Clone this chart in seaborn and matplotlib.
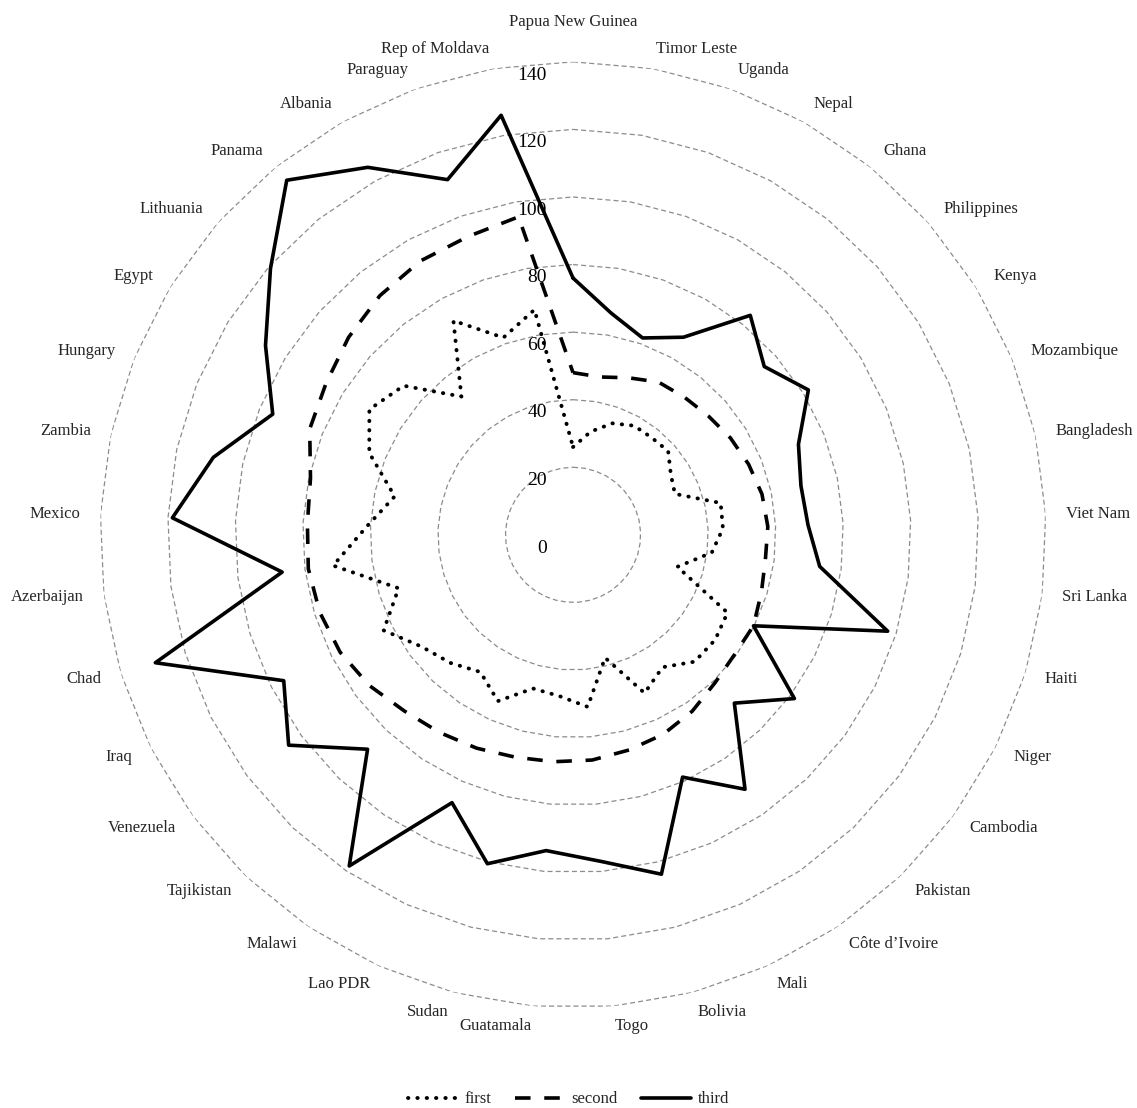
import numpy as np
import pandas as pd
import matplotlib
matplotlib.use("Agg")
import matplotlib.pyplot as plt
import seaborn as sns

# categories, clockwise from the top
countries = [
    "Papua New Guinea", "Timor Leste", "Uganda", "Nepal", "Ghana", "Philippines",
    "Kenya", "Mozambique", "Bangladesh", "Viet Nam", "Sri Lanka", "Haiti", "Niger",
    "Cambodia", "Pakistan", "Côte d\u2019Ivoire", "Mali", "Bolivia", "Togo",
    "Guatamala", "Sudan", "Lao PDR", "Malawi", "Tajikistan", "Venezuela", "Iraq",
    "Chad", "Azerbaijan", "Mexico", "Zambia", "Hungary", "Egypt", "Lithuania",
    "Panama", "Albania", "Paraguay", "Rep of Moldava",
]

first = [26, 31, 35, 37, 37, 37.5, 34, 32.5, 44.7, 44.4, 41.4, 32.3, 51.2,
         52.3, 52, 47.3, 51.4, 37.6, 51.1, 47.9, 47, 54, 49, 52.5, 55.7, 62.8,
         54, 71.6, 61, 54, 65, 70.8, 66.8, 52.6, 72.6, 61.9, 67.6]

second = [48, 47.4, 49.3, 51.8, 52.4, 53.3, 54.7, 56, 57.2, 57.7, 57.4, 58.3,
          59.8, 59.5, 60.7, 63, 64.8, 65.8, 66.9, 67.4, 68, 69.3, 70.6, 72.2,
          75, 77.2, 78.4, 79, 78.7, 79.5, 84, 85.8, 88.5, 91, 92.8, 93.6, 95.5]

third = [76, 66.6, 61.8, 67, 83.5, 75.4, 81.8, 71.9, 69, 69.6, 73.6, 97.4,
         59.8, 81.5, 69, 90.9, 78.7, 103.8, 97, 93.8, 100.6, 87, 118.3, 87.9,
         104.7, 95.9, 129.3, 86.8, 118.7, 108.9, 95.8, 106.9, 119.3, 134.9,
         124.6, 111.5, 126]

series_names = ["first", "second", "third"]
ticks = [0, 20, 40, 60, 80, 100, 120, 140]

sns.set_theme(style="white")
plt.rcParams["font.family"] = ["Liberation Serif", "DejaVu Serif"]

fig = plt.figure(figsize=(11.37, 11.08), dpi=100)
ax = fig.add_axes([0.088, 0.0903, 0.832, 0.854], projection="polar")
ax.set_theta_zero_location("N")
ax.set_theta_direction(-1)

n = len(countries)
angles = np.arange(n) * 2 * np.pi / n
closed = np.r_[angles, 2 * np.pi]

# polygon gridlines like the spreadsheet radar chart
for t in ticks[1:]:
    ax.plot(closed, np.full(n + 1, t), color="#8c8c8c", lw=0.9,
            ls=(0, (4, 2.5)), zorder=1)

styles = {
    "first": dict(ls=(0, (0.1, 2.3)), lw=2.8, dash_capstyle="round"),
    "second": dict(ls=(0, (4.3, 3.8)), lw=2.6, dash_capstyle="butt"),
    "third": dict(ls="-", lw=2.6),
}
handles = []
for name, vals in zip(series_names, [first, second, third]):
    df = pd.DataFrame({"angle": closed, "value": np.r_[vals, vals[0]]})
    sns.lineplot(data=df, x="angle", y="value", ax=ax, sort=False,
                 estimator=None, color="black", label=name, zorder=3,
                 **styles[name])
    handles.append(ax.lines[-1])
if ax.get_legend() is not None:
    ax.get_legend().remove()

ax.set_ylim(0, 140)
ax.set_xticks([])
ax.set_yticks([])
ax.grid(False)
ax.spines["polar"].set_visible(False)
ax.set_xlabel("")
ax.set_ylabel("")

for t in ticks:
    ax.annotate(str(t), xy=(0, t), xytext=(-19, -9.5),
                textcoords="offset points", ha="right", va="center",
                fontsize=14, color="black")

for theta, name in zip(angles, countries):
    s, c = np.sin(theta), np.cos(theta)
    ha = "center" if abs(s) < 0.05 else ("left" if s > 0 else "right")
    if c > 0.99:
        ax.annotate(name, xy=(theta, 146), xytext=(0, 8),
                    textcoords="offset points", ha=ha, va="bottom",
                    fontsize=12, annotation_clip=False)
    else:
        ax.text(theta, 146, name, ha=ha, va="center", fontsize=12,
                clip_on=False)

fig.legend(handles, series_names, loc="lower center",
           bbox_to_anchor=(0.5, -0.013), ncol=3, frameon=False, fontsize=12,
           handlelength=3.0, columnspacing=1.4, handletextpad=0.4)

fig.savefig("out.png", dpi=100)
